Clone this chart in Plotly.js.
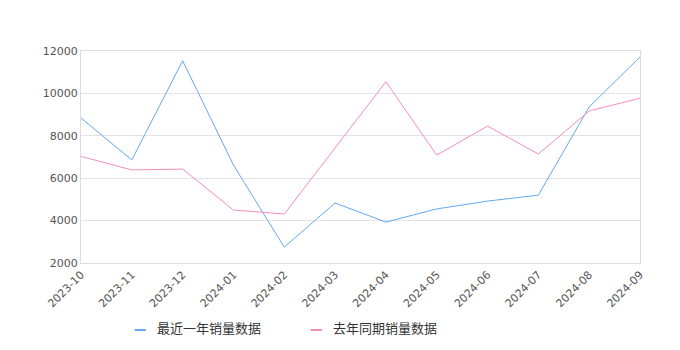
<!DOCTYPE html>
<html><head><meta charset="utf-8">
<script src="https://cdn.plot.ly/plotly-3.0.1.min.js"></script>
<style>html,body{margin:0;padding:0;background:#fff}#c{width:680px;height:350px}</style>
</head><body><div id="c"></div>
<script>
var months = ["2023-10","2023-11","2023-12","2024-01","2024-02","2024-03","2024-04","2024-05","2024-06","2024-07","2024-08","2024-09"];
var recent = [8840, 6860, 11540, 6620, 2750, 4830, 3930, 4550, 4920, 5200, 9360, 11720];
var lastYear = [7030, 6390, 6430, 4500, 4310, 7420, 10550, 7090, 8460, 7140, 9170, 9770];
var names = ["最近一年销量数据", "去年同期销量数据"];
var colors = ["#62a9f2", "#f38dbd"];
var yTicks = [2000, 4000, 6000, 8000, 10000, 12000];

var cjk = "'Noto Sans CJK SC', 'DejaVu Sans', sans-serif";
var tickFont = {family: "'DejaVu Sans', sans-serif", size: 11, color: "#555"};
var data = [
  {x: months, y: recent, name: names[0], type: "scatter", mode: "lines", line: {color: colors[0], width: 1}},
  {x: months, y: lastYear, name: names[1], type: "scatter", mode: "lines", line: {color: colors[1], width: 1}}
];
// custom legend (short swatches + labels)
var legendX = [0.132, 0.447];
var shapes = [], annotations = [];
for (var i = 0; i < names.length; i++) {
  shapes.push({type: "line", xref: "paper", yref: "paper", x0: legendX[i] - 0.036, x1: legendX[i] - 0.016, y0: -0.316, y1: -0.316, line: {color: colors[i], width: 2}});
  annotations.push({xref: "paper", yref: "paper", x: legendX[i], y: -0.306, xanchor: "left", yanchor: "middle", showarrow: false, text: names[i], font: {family: cjk, size: 13, color: "#333"}});
}
var layout = {
  width: 680, height: 350,
  margin: {l: 81, r: 40, t: 51, b: 87},
  paper_bgcolor: "#fff", plot_bgcolor: "#fff",
  font: {family: cjk, size: 11, color: "#555"},
  showlegend: false,
  shapes: shapes, annotations: annotations,
  xaxis: {type: "category", range: [0, 11], tickangle: -45, automargin: false, showgrid: false, showline: true, linecolor: "#ddd", mirror: true, ticks: "", tickfont: tickFont, zeroline: false},
  yaxis: {range: [2000, 12000], automargin: false, tickvals: yTicks, ticktext: yTicks.map(String), showgrid: true, gridcolor: "#e3e3e3", showline: true, linecolor: "#ddd", mirror: true, ticks: "", zeroline: false, tickfont: tickFont}
};
Plotly.newPlot("c", data, layout, {displayModeBar: false, staticPlot: true});
</script></body></html>
